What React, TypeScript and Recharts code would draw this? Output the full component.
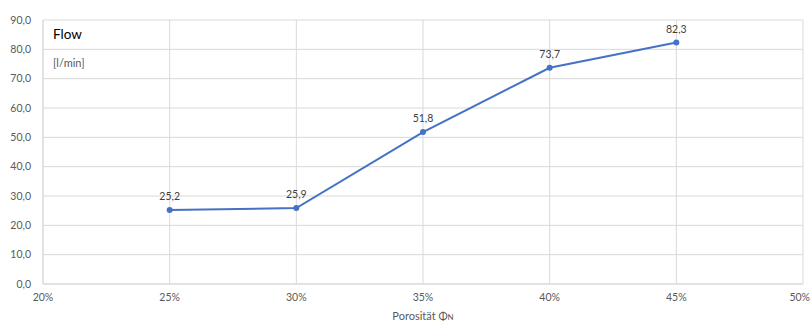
import { CartesianGrid, LabelList, Line, LineChart, XAxis, YAxis } from "recharts"

const porosity = [0.25, 0.3, 0.35, 0.4, 0.45]
const flow = [25.2, 25.9, 51.8, 73.7, 82.3]
const xTicks = [0.2, 0.25, 0.3, 0.35, 0.4, 0.45, 0.5]
const yTicks = [0, 10, 20, 30, 40, 50, 60, 70, 80, 90]

const data = porosity.map((p, i) => ({ porosity: p, flow: flow[i] }))

const font = "Lato, 'Open Sans', sans-serif"
const gridColor = "#d9d9d9"
const tickColor = "#595959"

const fmt1 = (v: number) => v.toFixed(1).replace(".", ",")
const fmtPct = (v: number) => `${Math.round(v * 100)}%`

// last tick sits on the right edge, so keep it inside the svg
function PctTick(props: any) {
  const { x, y, payload } = props
  const last = payload.value >= 0.5
  return (
    <text
      x={last ? 810 : x}
      y={y + 9}
      textAnchor={last ? "end" : "middle"}
      fontSize={10.5}
      fill={tickColor}
      fontFamily={font}
    >
      {fmtPct(payload.value)}
    </text>
  )
}

function AxisTitle(props: any) {
  const vb = props.viewBox || {}
  const cx = vb.x + vb.width / 2
  return (
    <text x={cx} y={vb.y + 36} textAnchor="middle" fontSize={11} fill={tickColor} fontFamily={font}>
      Porosität Φ<tspan fontSize={8}>N</tspan>
    </text>
  )
}

export default function App() {
  return (
    <div style={{ position: "absolute", left: 0, top: 0, width: 811, height: 322, background: "#fff", fontFamily: font }}>
      <LineChart width={811} height={322} data={data} margin={{ top: 20, right: 8, left: 0, bottom: 0 }}>
        <CartesianGrid stroke={gridColor} />
        <XAxis
          dataKey="porosity"
          type="number"
          domain={[0.2, 0.5]}
          ticks={xTicks}
          height={38}
          tickLine={false}
          axisLine={{ stroke: gridColor }}
          tick={<PctTick />}
          interval={0}
          label={<AxisTitle />}
        />
        <YAxis
          type="number"
          domain={[0, 90]}
          ticks={yTicks}
          tickFormatter={fmt1}
          width={43}
          tickLine={false}
          axisLine={{ stroke: gridColor }}
          tick={{ fontSize: 10.5, fill: tickColor, fontFamily: font }}
          tickMargin={6}
        />
        <Line
          type="linear"
          dataKey="flow"
          stroke="#4472c4"
          strokeWidth={2}
          dot={{ r: 3, fill: "#4472c4", stroke: "none" }}
          isAnimationActive={false}
        >
          <LabelList
            dataKey="flow"
            position="top"
            offset={10}
            formatter={(v: any) => fmt1(Number(v))}
            style={{ fontSize: 10.5, fill: "#404040", fontFamily: font }}
          />
        </Line>
      </LineChart>
      <div style={{ position: "absolute", left: 53, top: 26, fontSize: 13.5, color: "#000" }}>Flow</div>
      <div style={{ position: "absolute", left: 53, top: 56, fontSize: 11, color: tickColor }}>[l/min]</div>
    </div>
  )
}
